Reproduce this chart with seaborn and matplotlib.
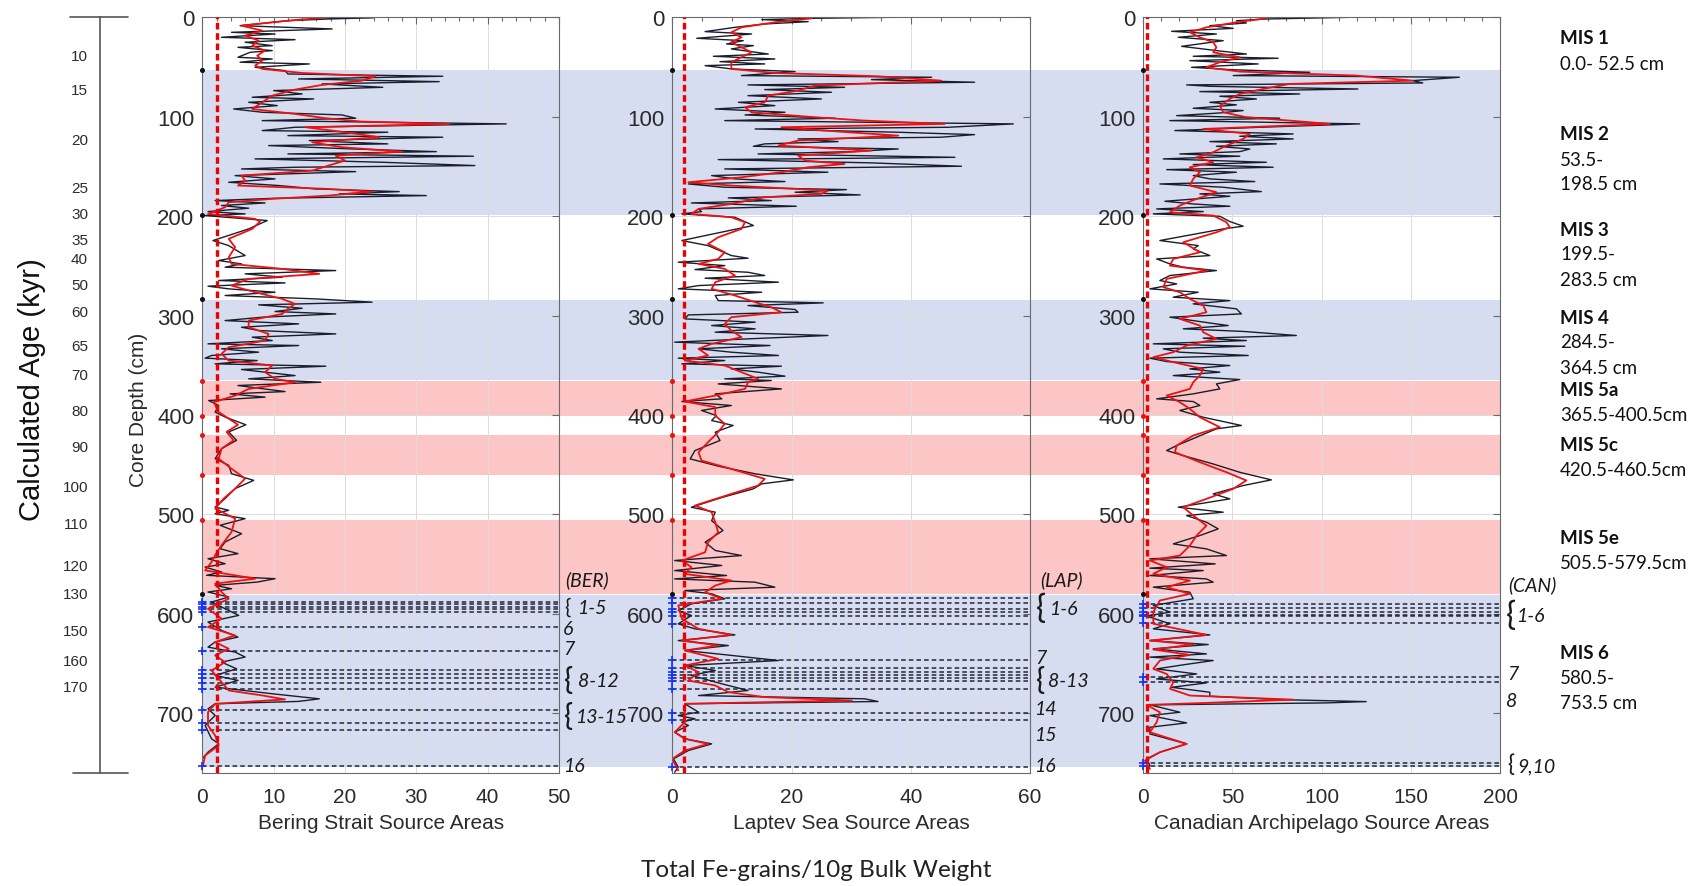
import numpy as np
import pandas as pd
import seaborn as sns
import matplotlib
matplotlib.use("Agg")
import matplotlib.pyplot as plt
from matplotlib import transforms as mtrans
from matplotlib.lines import Line2D
from matplotlib.ticker import MultipleLocator

# ---------------------------------------------------------------- data
# Bering Strait source areas (black raw series, red smoothed series)
ber_depth = [0, 0.5, 1.7, 3.4, 8.4, 11.7, 15.1, 16.8, 20.1, 22.5, 25.1, 28.5, 30.2, 33.5, 35.2, 40.2, 41.9, 45.2, 46.9, 50.3,
             53.6, 57.0, 59.3, 62.0, 64.7, 67.0, 70.4, 73.7, 77.1, 80.4, 82.1, 85.5, 88.8, 92.2, 95.5, 98.2, 101.5, 103.9, 107.2, 110.6,
             113.9, 115.6, 119.0, 120.6, 124.0, 127.3, 129.0, 132.4, 135.1, 137.4, 139.7, 142.4, 145.8, 149.1, 150.8, 152.5, 155.2, 159.2, 162.5, 165.9,
             169.2, 172.6, 175.3, 177.6, 179.3, 182.0, 184.3, 186.7, 189.3, 192.0, 195.4, 197.7, 199.4, 204.4, 212.8, 224.5, 229.6, 239.6, 244.6, 248.0,
             251.3, 254.7, 258.0, 261.4, 264.7, 267.1, 270.4, 273.1, 276.5, 279.8, 283.2, 286.5, 289.2, 292.6, 295.9, 298.3, 301.6, 305.0, 308.3, 311.7,
             315.0, 318.4, 321.7, 325.1, 328.4, 330.1, 333.4, 336.8, 340.1, 342.8, 345.2, 348.5, 350.9, 354.2, 356.9, 360.3, 363.6, 367.0, 370.3, 376.4,
             378.7, 382.0, 385.4, 390.4, 397.0, 402.0, 409.8, 417.0, 425.4, 433.8, 443.9, 450.6, 459.0, 465.7, 474.0, 484.0, 492.5, 495.8, 499.2, 504.2,
             510.9, 519.3, 527.7, 534.4, 539.4, 544.5, 549.5, 552.9, 557.9, 561.2, 564.6, 568.0, 571.3, 574.7, 578.0, 583.0, 588.1, 594.8, 601.5, 608.2,
             616.6, 623.3, 628.3, 633.4, 638.4, 643.4, 648.5, 655.2, 661.9, 666.9, 673.6, 680.3, 685.4, 688.0, 690.4, 695.4, 702.1, 712.2, 725.6, 730.6,
             739.0, 745.7, 752.5]
ber_fe = [12, 24, 17.7, 12, 5.3, 18.2, 4.1, 10.2, 2.7, 13, 6, 9.8, 5, 9.8, 6.7, 5, 9.8, 5.3, 15, 7.4,
          11.6, 12, 33.7, 13.5, 33.2, 16.8, 25.3, 10, 14, 7, 15.6, 6.5, 10.5, 4.4, 8.4, 19.6, 21.5, 8.4, 42.6, 13,
          8.4, 26, 12, 33.7, 15, 26, 9.3, 21, 32.8, 12, 38, 7.4, 25.3, 38.2, 13, 5.5, 21.5, 4.6, 10.2, 3.7,
          10.7, 15.9, 27.6, 19.2, 31.4, 10.2, 1.8, 8.8, 2.7, 6.5, 0.8, 6, 0.4, 9.1, 6.5, 1.5, 3.7, 6, 2.3, 5.5,
          3.2, 18.7, 6, 11.2, 2.3, 11.6, 0.8, 3.7, 10.2, 3.2, 15.9, 23.8, 7.9, 14, 10.2, 18.7, 8.4, 3.2, 13.5, 5.5,
          7.9, 18.7, 7, 9.8, 0.8, 13.5, 2.7, 7.9, 1.3, 0.4, 7.7, 1.8, 17.3, 5.5, 8.8, 13, 6.5, 16.6, 5, 11.6,
          3.9, 8.8, 0.9, 2.3, 1.8, 3.2, 6.1, 3.7, 4.8, 2.7, 1.8, 3.7, 4.1, 7.2, 4.6, 3.2, 1.8, 3.7, 1.8, 6,
          2.5, 5.5, 3.2, 2.5, 5, 0.8, 3.2, 0.4, 2.7, 0.6, 10.2, 7.7, 1.8, 4.1, 0.8, 3.7, 1.3, 3.2, 5.1, 0.8,
          2.7, 5, 1.8, 0.8, 4.6, 6, 2.7, 4.8, 1.8, 5, 1.8, 9.8, 16.4, 13.5, 1.8, 0.8, 1.8, 0.4, 1.3, 2.3,
          0.8, 0, 0.1]
ber_sm_depth = [0, 3.4, 8.4, 13.4, 18.4, 23.5, 28.5, 33.5, 38.5, 43.6, 48.6, 51.9, 56.0, 59.3, 63.7, 68.0, 72.7, 78.8, 85.5, 92.2,
                97.2, 101.5, 104.9, 107.2, 110.6, 115.6, 120.6, 125.7, 130.7, 135.1, 139.1, 144.1, 149.1, 154.2, 159.2, 164.2, 169.2, 172.6, 175.3, 179.3,
                182.6, 186.0, 191.0, 197.7, 202.7, 205.4, 212.8, 222.8, 231.2, 241.3, 248.0, 253.0, 258.0, 263.1, 269.8, 276.5, 283.2, 288.2, 293.2, 298.3,
                305.0, 311.7, 318.4, 325.1, 331.8, 338.5, 345.2, 350.2, 356.9, 363.6, 367.0, 373.7, 380.4, 387.0, 397.0, 409.8, 417.0, 425.4, 433.8, 443.9,
                454.0, 464.0, 474.0, 484.0, 494.0, 504.2, 517.6, 531.0, 541.0, 547.8, 556.2, 564.6, 569.6, 578.0, 584.7, 594.8, 604.8, 613.2, 621.6, 628.3,
                635.0, 641.8, 648.5, 656.9, 665.2, 677.0, 682.0, 686.0, 690.4, 698.8, 712.2, 722.3, 732.3, 742.4, 752.5]
ber_sm = [17.7, 12, 5.5, 8.4, 6, 7.9, 7, 8.8, 7.7, 8.4, 7.4, 8.4, 14, 24.3, 22.4, 16.8, 13, 9.8, 8.4, 7,
          13, 17.3, 22.4, 34.6, 14.5, 20, 24.8, 15.4, 19.6, 28, 18.7, 20, 17.7, 15.4, 5.5, 6, 5, 17.7, 23.8, 17.7,
          9.8, 3.7, 3.2, 0.8, 7.4, 8.1, 7, 3.7, 4.6, 3.7, 4.1, 11.2, 16.4, 6.5, 4.1, 7.4, 11.2, 13, 12, 11.2,
          6.5, 6.5, 9.3, 8.8, 3.7, 2.7, 3.7, 9.8, 8.8, 10.2, 13, 6.5, 4.6, 1.6, 2.3, 5, 3.4, 4.4, 2.7, 2.3,
          4.1, 6, 4.6, 3, 1.8, 4.6, 4.1, 2.7, 1.8, 1.3, 0.4, 7.4, 1.8, 2.7, 3.7, 0.8, 2.7, 0.8, 4.6, 1.8,
          3.7, 1.8, 3.2, 1.3, 2.3, 3.7, 8.4, 11.6, 1.8, 0.8, 0.8, 1.8, 2.3, 0.4, 0.1]

# Laptev Sea source areas
lap_depth = [0, 1.0, 2.3, 4.4, 6.7, 10.1, 14.4, 16.8, 21.1, 23.5, 26.8, 28.5, 31.8, 36.9, 39.2, 41.9, 44.6, 46.9, 48.6, 51.9,
             54.6, 58.6, 60.3, 62.7, 65.3, 68.0, 70.4, 72.7, 75.4, 78.8, 82.1, 85.5, 88.8, 92.2, 95.5, 98.2, 101.5, 103.9, 107.2, 110.6,
             112.3, 115.6, 118.0, 120.6, 122.3, 125.0, 127.3, 129.7, 132.4, 135.1, 137.4, 140.8, 143.1, 146.4, 149.8, 152.5, 155.8, 159.2, 162.5, 165.2,
             167.6, 170.9, 173.3, 175.9, 178.6, 181.6, 184.3, 186.7, 190.0, 192.7, 195.4, 197.7, 201.1, 209.4, 211.1, 224.5, 229.6, 239.6, 242.3, 246.3,
             249.7, 253.7, 256.4, 259.7, 262.4, 266.4, 269.8, 273.1, 276.5, 279.8, 284.9, 287.2, 289.9, 293.9, 296.6, 299.3, 303.3, 306.6, 310.0, 313.3,
             316.7, 320.0, 323.4, 326.7, 330.1, 333.4, 336.8, 340.1, 342.8, 345.2, 348.5, 350.9, 353.6, 356.9, 360.9, 363.6, 365.3, 368.7, 373.7, 378.7,
             383.7, 386.4, 390.4, 395.4, 400.5, 405.5, 410.5, 417.2, 425.6, 435.7, 444.1, 451.4, 459.1, 465.2, 469.2, 474.2, 482.6, 492.7, 497.7, 506.1,
             516.1, 527.9, 536.2, 541.3, 546.3, 551.3, 556.4, 561.4, 564.8, 568.1, 573.1, 576.5, 579.8, 584.8, 589.9, 596.6, 601.6, 610.0, 615.0, 621.1,
             626.8, 631.8, 636.8, 641.2, 646.9, 651.9, 656.9, 661.9, 670.3, 677.0, 682.1, 685.4, 688.1, 690.4, 698.8, 702.2, 705.5, 708.9, 712.2, 718.9,
             725.6, 730.7, 737.4, 745.8, 754.2, 759.2]
lap_fe = [36.8, 23.9, 15, 22.8, 15.5, 10.5, 5.5, 13.3, 4.1, 11.9, 9.1, 13.6, 9.9, 16.1, 6.9, 17.2, 8, 15.5, 5.5, 9.9,
          20.6, 11.6, 43.5, 33.4, 50.7, 12.7, 28.9, 15.5, 26.7, 12.7, 25, 11.1, 17.2, 7.2, 18.9, 12.2, 27.3, 8.8, 57.2, 46.3,
          13.9, 37.9, 50.7, 45.1, 21.1, 27.8, 15.5, 13.6, 37.9, 30.1, 14.4, 47.4, 7.7, 33.4, 48.5, 8.8, 26.1, 6.6, 10.5, 18.9,
          2.7, 8.8, 29.2, 20.6, 31.5, 9.4, 16.6, 3.2, 20.8, 4.4, 4.9, 1.6, 10.5, 13.6, 12.2, 1.6, 6, 9.9, 12.7, 1,
          8.8, 3.8, 12.7, 15.5, 5.5, 17.8, 4.4, 1, 15, 7.2, 7.7, 25.3, 12.7, 20.6, 21.1, 2.7, 2.1, 13.9, 6.6, 13.9,
          7.2, 26.1, 12.7, 0.4, 16.4, 4.4, 9.9, 17.8, 1, 8.8, 1.6, 18.3, 9.9, 14.4, 18.9, 8.8, 16.6, 7.7, 18.3, 7.2,
          8.3, 1.6, 9.9, 4.9, 7.4, 6.6, 10.2, 7.2, 8, 3.8, 3, 7.7, 13.9, 20.3, 15, 13.6, 8.5, 3.2, 7.2, 6.6,
          8.5, 5.5, 7.2, 11.6, 0.4, 8.3, 0.4, 9.1, 0.4, 13.9, 17.2, 2.1, 6.6, 8.8, 3.2, 1, 3.2, 1, 3.8, 10.5,
          1, 9.4, 2.1, 9.1, 17.8, 2.1, 7.2, 3.2, 8.3, 12.7, 4.4, 32.3, 34.5, 2.1, 4.4, 1, 3.8, 1.6, 2.7, 0.4,
          2.1, 6.6, 2.7, 0.2, 1, 0.4]
lap_sm_depth = [1.0, 5.0, 10.1, 15.1, 20.1, 25.1, 30.2, 35.2, 40.2, 45.2, 51.9, 56.0, 59.3, 63.7, 68.7, 73.7, 78.8, 85.5, 90.5, 95.5,
                100.5, 103.9, 107.2, 110.6, 115.6, 119.0, 124.0, 129.0, 134.0, 139.1, 144.1, 147.5, 150.8, 155.8, 160.9, 165.9, 169.2, 174.3, 177.6, 181.0,
                184.3, 187.7, 192.7, 197.7, 201.1, 206.1, 212.8, 221.2, 227.9, 236.3, 243.0, 248.0, 253.0, 259.7, 266.4, 273.1, 279.8, 286.5, 291.6, 296.6,
                301.6, 308.3, 315.0, 321.7, 328.4, 333.4, 340.1, 345.2, 350.2, 356.9, 363.6, 367.0, 373.7, 380.4, 386.4, 392.0, 400.5, 408.9, 419.0, 427.3,
                437.4, 445.8, 454.2, 464.2, 470.9, 479.3, 491.0, 497.7, 507.8, 517.9, 527.9, 538.0, 546.3, 553.0, 559.7, 566.4, 571.5, 578.2, 584.8, 591.5,
                604.9, 615.0, 621.1, 626.8, 631.8, 636.8, 645.2, 651.9, 658.6, 667.0, 672.0, 678.7, 683.7, 687.1, 690.4, 698.8, 708.9, 718.9, 725.6, 730.7,
                737.4, 745.8, 757.5]
lap_sm = [23.4, 17.2, 11.6, 9.9, 11.6, 9.9, 11.6, 13.3, 11.6, 9.9, 9.9, 17.2, 34.5, 45.1, 23.9, 21.1, 16.1, 15.5, 12.2, 13.3,
          23.9, 32.3, 45.7, 18.3, 29.5, 37.9, 21.1, 17.8, 33.4, 21.1, 22.3, 28.9, 22.8, 18.3, 11.6, 2.7, 9.9, 26.1, 25, 15.5,
          12.7, 9.9, 4.4, 3.2, 9.9, 12.2, 11.6, 7.7, 6, 8.8, 7.7, 4.4, 8.8, 10.5, 7.2, 6.6, 10.5, 13.9, 16.6, 18.3,
          9.9, 8.8, 9.9, 11.6, 6.6, 4.4, 6, 2.1, 8.8, 11.6, 14.4, 12.7, 12.2, 7.2, 2.1, 7.2, 7.2, 8.8, 7.4, 6,
          4.4, 4.9, 9.9, 15.5, 14.4, 9.9, 3.8, 6.6, 7.2, 7.7, 6, 5.5, 1.6, 3.2, 2.1, 9.9, 7.2, 5.5, 8.3, 1,
          1.6, 4.4, 9.9, 1.6, 7.7, 2.1, 7.7, 2.1, 4.4, 2.7, 7.2, 9.4, 15.5, 30.1, 2.1, 2.1, 2.1, 0.4, 2.1, 6,
          2.1, 0, 1]

# Canadian Archipelago source areas
can_depth = [0, 1.7, 3.4, 5.7, 8.4, 11.1, 14.1, 16.8, 20.1, 23.5, 29.2, 33.5, 36.9, 39.2, 41.2, 43.6, 46.9, 50.3, 52.6, 55.3,
             58.6, 60.3, 63.7, 66.0, 68.0, 69.4, 72.1, 74.7, 77.1, 79.4, 82.1, 85.5, 88.1, 91.5, 93.8, 96.2, 98.9, 101.5, 103.9, 107.2,
             110.6, 113.9, 117.3, 119.6, 122.3, 125.0, 127.3, 129.7, 132.4, 135.1, 137.4, 139.7, 142.4, 145.8, 148.1, 150.8, 153.2, 155.8, 159.2, 162.5,
             165.2, 167.6, 170.9, 175.3, 177.6, 180.0, 182.6, 185.0, 187.7, 190.0, 192.7, 195.4, 197.7, 200.1, 205.4, 210.1, 212.8, 224.5, 229.6, 232.9,
             239.6, 243.0, 248.0, 251.3, 254.7, 259.7, 264.7, 268.1, 273.1, 276.5, 281.5, 284.9, 288.2, 293.2, 298.3, 301.6, 306.0, 310.0, 313.3, 316.0,
             320.0, 322.7, 325.1, 328.4, 330.8, 333.4, 336.8, 340.1, 342.8, 346.2, 350.2, 353.6, 356.9, 360.3, 364.3, 368.7, 373.7, 378.7, 383.7, 386.4,
             390.4, 395.4, 402.2, 410.5, 413.9, 422.3, 430.7, 435.7, 440.8, 449.2, 457.6, 465.2, 470.9, 479.3, 484.3, 492.7, 497.7, 501.1, 507.8, 514.5,
             521.2, 529.6, 534.6, 541.3, 544.6, 549.7, 554.0, 556.4, 561.4, 564.8, 568.1, 573.1, 578.2, 584.8, 591.5, 598.2, 602.2, 609.9, 615.0, 621.1,
             626.8, 630.8, 635.1, 640.2, 643.5, 646.9, 651.2, 655.3, 660.4, 665.4, 669.4, 673.8, 678.8, 682.8, 686.2, 688.2, 689.5, 691.5, 698.9, 702.2,
             709.6, 714.0, 720.7, 730.7, 739.1, 745.8, 752.6, 759.3]
can_fe = [115.7, 69, 52.2, 57.8, 37.3, 50.4, 15.9, 41, 19.6, 44.8, 21.5, 41, 57.8, 28, 75.6, 26.1, 64.4, 27.1, 48.5, 93.3,
          50.4, 177.2, 151.1, 156.7, 24.3, 37.3, 120.3, 31.7, 87.7, 42.9, 63.4, 37.3, 52.2, 28, 56, 42.9, 18.7, 76.5, 14.9, 121.3,
          65.3, 17.7, 84, 54.1, 84, 37.3, 74.6, 41, 59.7, 54.1, 20.5, 54.1, 11.2, 69, 28, 72.8, 13.1, 52.2, 28, 37.3,
          62.5, 9.3, 44.8, 66.2, 31.7, 48.5, 29.9, 12.1, 28, 48.5, 7.5, 33.6, 5.6, 42.9, 48.5, 56, 44.8, 9.3, 30.8, 28,
          37.3, 7.5, 14.9, 22.4, 41, 14.9, 9.3, 18.7, 3.7, 30.8, 16.8, 48.5, 28, 52.2, 55, 14.9, 31.7, 47.6, 22.4, 56.9,
          85.8, 33.6, 57.8, 5.6, 56.9, 11.2, 20.5, 58.8, 3.7, 13.1, 48.5, 26.1, 42.9, 16.8, 54.1, 41, 42.9, 28, 7.5, 28,
          31.7, 20.5, 33.6, 55, 41, 29.9, 18.7, 13.1, 22.4, 39.2, 54.1, 71.8, 56, 39.2, 48.5, 19.6, 44.8, 24.3, 35.4, 42,
          31.7, 16.8, 35.4, 46.6, 3.7, 40.3, 3.7, 33.6, 3.7, 35.4, 39.2, 5.6, 26.1, 28, 5.6, 14.9, 1.9, 14.9, 5.6, 37.3,
          3.7, 36.4, 5.6, 35.4, 3.7, 39.2, 22.4, 7.5, 29.9, 7.5, 35.4, 15.9, 37.3, 37.3, 76.5, 125, 102.6, 3.7, 20.5, 3.7,
          24.3, 3.7, 3.7, 24.3, 9.3, 1.9, 3.7, 1.9]
can_sm_depth = [1.0, 5.0, 10.1, 15.1, 20.1, 25.1, 30.2, 35.2, 40.2, 45.2, 50.3, 54.6, 58.6, 63.7, 67.0, 71.4, 77.1, 82.1, 88.8, 95.5,
                100.5, 103.9, 107.2, 112.3, 117.3, 122.3, 129.0, 135.7, 140.8, 145.8, 150.8, 155.8, 162.5, 169.2, 175.9, 182.6, 189.3, 196.0, 199.4, 206.1,
                211.1, 216.2, 226.2, 236.3, 243.0, 249.7, 254.7, 263.1, 271.4, 276.5, 283.2, 289.9, 296.6, 303.3, 310.0, 316.7, 323.4, 330.1, 336.8, 341.8,
                346.8, 353.6, 360.3, 367.0, 373.7, 380.4, 387.1, 393.8, 402.2, 412.2, 420.6, 430.7, 437.4, 447.4, 457.5, 465.8, 474.2, 484.3, 492.7, 501.1,
                511.2, 521.2, 531.3, 541.3, 546.3, 553.0, 559.7, 566.5, 573.1, 579.8, 586.5, 598.2, 609.9, 621.1, 626.8, 630.8, 635.8, 641.2, 646.9, 655.3,
                660.4, 668.7, 675.4, 682.1, 686.2, 689.5, 691.5, 698.9, 708.9, 719.0, 730.7, 739.1, 747.5, 755.9]
can_sm = [69, 52.2, 35.4, 26.1, 31.7, 39.2, 41, 39.2, 54.1, 42.9, 35.4, 54.1, 119.4, 151.1, 82.1, 69, 54.1, 48.5, 42.9, 44.8,
          57.8, 82.1, 104.5, 33.6, 59.7, 56, 46.6, 39.2, 29.9, 39.2, 26.1, 31.7, 28, 26.1, 41, 29.9, 20.5, 14.9, 39.2, 46.6,
          48.5, 41, 22.4, 31.7, 16.8, 14.9, 35.4, 13.1, 11.2, 20.5, 26.1, 33.6, 35.4, 20.5, 31.7, 33.6, 41, 24.3, 16.8, 5.6,
          16.8, 33.6, 31.7, 28, 26.1, 13.1, 20.5, 26.1, 31.7, 42.9, 28, 18.7, 17.7, 31.7, 46.6, 57.8, 50.4, 35.4, 22.4, 28,
          35.4, 29.9, 26.1, 20.5, 3.7, 13.1, 5.6, 26.1, 13.1, 26.1, 9.3, 5.6, 5.6, 35.4, 3.7, 28, 5.6, 26.1, 9.3, 5.6,
          13.1, 16.8, 15, 26.1, 84, 35.4, 1.9, 9.3, 7.5, 3.7, 24.3, 9.3, 0.9, 3.7]

# Marine isotope stage intervals (cm)
blue_bands = [(53.5, 198.5), (284.5, 364.5), (580.5, 753.5)]
red_bands = [(365.5, 400.5), (420.5, 460.5), (505.5, 579.5)]
black_bounds = [53.5, 198.5, 283.5, 579.5]
red_bounds = [365.5, 400.5, 420.5, 460.5, 505.5]

# horizons (dashed lines) per source area
ber_lines = [588, 590.5, 593, 595.5, 598, 613.3, 637.4, 656, 660, 664.3, 669.3, 676, 696.2, 709.5, 716.6, 752.5]
lap_lines = [584, 589, 595, 598.2, 602.3, 610, 645.9, 654, 658, 661.3, 664.3, 667, 676, 699.8, 706.2, 753.5]
can_lines = [590, 594, 598.2, 600.6, 602.6, 609, 663, 668, 750, 753]

# horizon labels: (text, depth, brace font size or None, brace dx px, text dx px)
ber_labels = [("(BER)", 565, None, 0, 6), ("1-5", 594, 15, 5, 18), ("6", 615, None, 0, 4), ("7", 635, None, 0, 4),
              ("8-12", 667, 22, 5, 19), ("13-15", 703.5, 22, 5, 16), ("16", 752.7, None, 0, 4)]
lap_labels = [("(LAP)", 565, None, 0, 10), ("1-6", 595, 24, 6, 19), ("7", 643.5, None, 0, 5),
              ("8-13", 667, 22, 6, 18), ("14", 694.7, None, 0, 4), ("15", 721.6, None, 0, 4), ("16", 752.7, None, 0, 4)]
can_labels = [("(CAN)", 570, None, 0, 8), ("1-6", 601.6, 24, 6, 16), ("7", 660, None, 0, 7), ("8", 687, None, 0, 6),
              ("9,10", 752.5, 17, 7, 17)]

# age model (calculated age, kyr) vs core depth (cm)
age_labels = [10, 15, 20, 25, 30, 35, 40, 50, 60, 65, 70, 80, 90, 100, 110, 120, 130, 150, 160, 170]
age_depths = [37.5, 72, 122, 170, 196, 222.5, 241.5, 268, 295, 329, 358, 394, 431, 470.5, 508.5, 550, 578.5, 616, 645.5, 671.5]

panel_names = ["Bering Strait Source Areas", "Laptev Sea Source Areas", "Canadian Archipelago Source Areas"]
x_max = [50, 60, 200]
x_major = [10, 20, 50]
x_minor = [2, 5, 10]
threshold = [2, 2, 2]

mis_titles = ["MIS 1", "MIS 2", "MIS 3", "MIS 4", "MIS 5a", "MIS 5c", "MIS 5e", "MIS 6"]
mis_ranges = ["0.0- 52.5 cm", "53.5-\n198.5 cm", "199.5-\n283.5 cm", "284.5-\n364.5 cm",
              "365.5-400.5cm", "420.5-460.5cm", "505.5-579.5cm", "580.5-\n753.5 cm"]
mis_title_y = [39, 135, 230, 318, 391, 446, 539, 654]   # figure pixel rows

# ---------------------------------------------------------------- style
sns.set_style("white")
plt.rcParams["font.family"] = ["Liberation Sans", "DejaVu Sans"]
CAL = ["Lato", "DejaVu Sans"]
BLUE = "#d6ddf1"
PINK = "#fcc6c6"
FRAME = "#6a6a6a"
TXT = "#2b2b2b"

W, H = 1695, 887
fig = plt.figure(figsize=(W / 100, H / 100), dpi=100)


def fx(px):
    return px / W


def fy(py):
    return 1 - py / H


top_px, bot_px = 18.3, 774
bottom = fy(bot_px)
height = fy(top_px) - fy(bot_px)
lefts = [202.3, 672.3, 1143.3]
rights = [559, 1030, 1500]
YMAX = 760

# background bands spanning all three panels
ax_bg = fig.add_axes([fx(lefts[0]), bottom, fx(rights[2]) - fx(lefts[0]), height], zorder=0)
ax_bg.set_ylim(YMAX, 0)
ax_bg.set_xlim(0, 1)
for lo, hi in blue_bands:
    ax_bg.axhspan(lo, hi, color=BLUE, lw=0)
for lo, hi in red_bands:
    ax_bg.axhspan(lo, hi, color=PINK, lw=0)
ax_bg.axis("off")

series = [(ber_depth, ber_fe, ber_sm_depth, ber_sm, ber_lines, ber_labels),
          (lap_depth, lap_fe, lap_sm_depth, lap_sm, lap_lines, lap_labels),
          (can_depth, can_fe, can_sm_depth, can_sm, can_lines, can_labels)]

for i, (dep, val, sdep, sval, hlines, labels) in enumerate(series):
    ax = fig.add_axes([fx(lefts[i]), bottom, fx(rights[i]) - fx(lefts[i]), height], zorder=2)
    ax.patch.set_alpha(0)
    n = min(len(dep), len(val))
    raw = pd.DataFrame({"depth": dep[:n], "fe": val[:n]})
    m = min(len(sdep), len(sval))
    smooth = pd.DataFrame({"depth": sdep[:m], "fe": sval[:m]})

    ax.set_axisbelow(True)
    ax.grid(True, color="#dcdcdc", lw=0.7)

    for d in hlines:
        ax.axhline(d, color="#22263a", lw=1.1, ls=(0, (3, 2)), zorder=1.5)

    sns.lineplot(data=raw, x="fe", y="depth", orient="y", sort=False, estimator=None,
                 color="#1a1d2c", lw=1.0, ax=ax, zorder=2, legend=False)
    sns.lineplot(data=smooth, x="fe", y="depth", orient="y", sort=False, estimator=None,
                 color="#ee1111", lw=1.3, ax=ax, zorder=2.5, legend=False)

    ax.axvline(threshold[i], color="#ee0000", lw=2.4, ls=(0, (2.0, 1.1)), zorder=3)

    ax.plot(np.zeros(len(hlines)), hlines, ls="none", marker="+", color="#1533ff",
            ms=6, mew=1.2, clip_on=False, zorder=4)
    ax.plot(np.zeros(len(black_bounds)), black_bounds, ls="none", marker="o", color="#111111",
            ms=2.6, clip_on=False, zorder=4)
    ax.plot(np.zeros(len(red_bounds)), red_bounds, ls="none", marker="o", color="#ee1111",
            ms=2.6, clip_on=False, zorder=4)

    ax.set_xlim(0, x_max[i])
    ax.set_ylim(YMAX, 0)
    ax.xaxis.set_major_locator(MultipleLocator(x_major[i]))
    ax.xaxis.set_minor_locator(MultipleLocator(x_minor[i]))
    ax.yaxis.set_major_locator(MultipleLocator(100))
    ax.set_xlabel("")
    ax.set_ylabel("")
    ax.tick_params(axis="both", which="both", direction="in", top=True, right=True,
                   color=FRAME, width=0.8)
    ax.tick_params(axis="x", which="major", length=5, labelsize=15, pad=10, labelcolor=TXT)
    ax.tick_params(axis="x", which="minor", length=3)
    ax.tick_params(axis="y", which="major", length=5, labelsize=16, pad=5.8, labelcolor=TXT)
    for sp in ax.spines.values():
        sp.set_color(FRAME)
        sp.set_linewidth(0.8)

    ax.text(0.5, -(824 - bot_px) / (bot_px - top_px), panel_names[i], transform=ax.transAxes,
            ha="center", va="center", fontsize=15, color=TXT)

    ytrans = ax.get_yaxis_transform()
    for text, depth, bsize, bdx, tdx in labels:
        if bsize is not None:
            ax.text(1.0, depth, "{", fontsize=bsize, family=CAL,
                    ha="left", va="center", color="#1a1a1a", clip_on=False,
                    transform=mtrans.offset_copy(ytrans, fig=fig, x=bdx, y=1, units="dots"))
        ax.text(1.0, depth, text, fontsize=14, family=CAL, style="italic",
                ha="left", va="center", color="#1a1a1a", clip_on=False,
                transform=mtrans.offset_copy(ytrans, fig=fig, x=tdx, y=0, units="dots"))

# age axis
ax_age = fig.add_axes([fx(100), bottom, 0.0005, height], zorder=1)
ax_age.set_ylim(YMAX, 0)
ax_age.set_yticks(age_depths)
ax_age.set_yticklabels([str(a) for a in age_labels])
ax_age.set_xticks([])
ax_age.patch.set_visible(False)
for k in ["top", "right", "bottom"]:
    ax_age.spines[k].set_visible(False)
ax_age.spines["left"].set_color("#555555")
ax_age.spines["left"].set_linewidth(1.2)
ax_age.tick_params(axis="y", direction="in", length=13.7, width=1.0, color="#555555",
                   labelsize=11, pad=8.6, labelcolor=TXT)
fig.add_artist(Line2D([fx(70), fx(128)], [fy(top_px), fy(top_px)], color="#555555", lw=1.2))
fig.add_artist(Line2D([fx(73), fx(128)], [fy(bot_px), fy(bot_px)], color="#555555", lw=1.2))

fig.text(fx(32), fy(390), "Calculated Age (kyr)", rotation=90, fontsize=21,
         ha="center", va="center", color="#111111")
fig.text(fx(139), fy(410), "Core Depth (cm)", rotation=90, fontsize=15,
         ha="center", va="center", color=TXT)
fig.text(fx(816), fy(871), "Total Fe-grains/10g Bulk Weight", fontsize=17.5, family=CAL,
         ha="center", va="center", color="#222222")

# MIS annotations on the right
for title, rng, ty in zip(mis_titles, mis_ranges, mis_title_y):
    fig.text(fx(1560), fy(ty), title, fontsize=13.5, family=CAL, fontweight="bold",
             ha="left", va="center", color="#111111")
    for j, line in enumerate(rng.split("\n")):
        fig.text(fx(1560), fy(ty + 25 + 25 * j), line, fontsize=13.5, family=CAL,
                 ha="left", va="center", color="#111111")

fig.savefig("out.png", dpi=100)
